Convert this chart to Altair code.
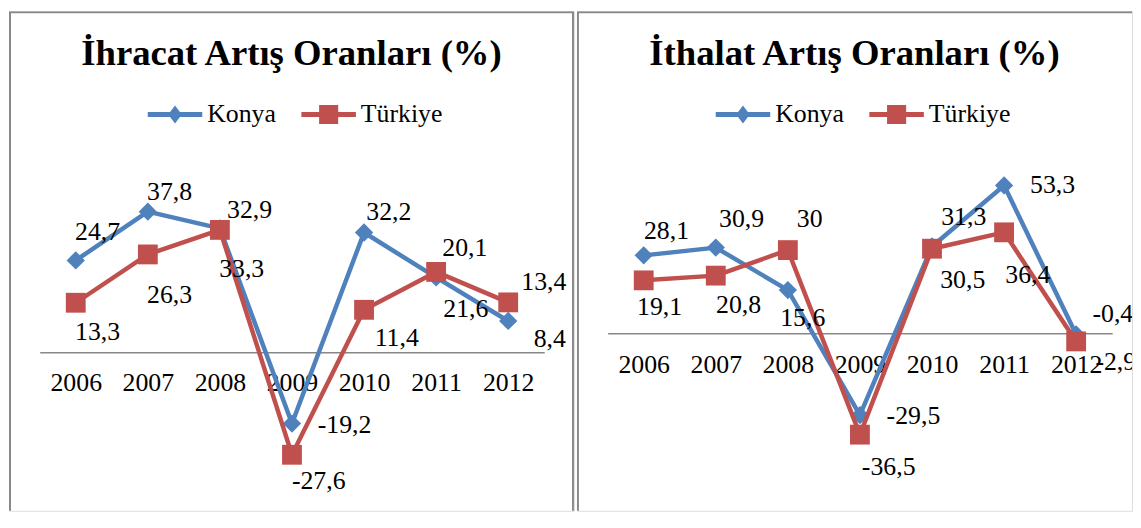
import altair as alt
import pandas as pd

# ---------------- data ----------------
YEARS = [2006, 2007, 2008, 2009, 2010, 2011, 2012]
SERIES = ["Konya", "Türkiye"]
EXPORT_KONYA = [24.7, 37.8, 33.3, -19.2, 32.2, 20.1, 8.4]
EXPORT_TURKIYE = [13.3, 26.3, 32.9, -27.6, 11.4, 21.6, 13.4]
IMPORT_KONYA = [28.1, 30.9, 15.6, -29.5, 31.3, 53.3, -0.4]
IMPORT_TURKIYE = [19.1, 20.8, 30.0, -36.5, 30.5, 36.4, -2.9]
TITLES = ["İhracat Artış Oranları (%)", "İthalat Artış Oranları (%)"]

# ---------------- style ----------------
FONT = "Liberation Serif"
COLORS = {"Konya": "#4F81BD", "Türkiye": "#C0504D"}
MARKERS = {"Konya": ("diamond", 340), "Türkiye": ("square", 400)}
LEGEND_PATHS = {
    "Konya": "M-1,-0.09H1V0.09H-1Z M0,-0.33L0.25,0L0,0.33L-0.25,0Z",
    "Türkiye": "M-1,-0.09H1V0.09H-1Z M-0.35,-0.35H0.35V0.35H-0.35Z",
}
BORDER = "#898989"
H = 504
X_RANGE = [31, 540]
PX_PER_YEAR = (X_RANGE[1] - X_RANGE[0]) / 7.0

# data-label nudges in pixels (dx, dy) per point, as placed in the original
EXPORT_NUDGE = {
    "Konya": [(22, -29), (22, -20), (22, 41), (53, 2), (25, -21), (29, -30), (42, 18)],
    "Türkiye": [(22, 30), (22, 41), (30, -20), (27, 27), (33, 29), (30, 38), (36, -20)],
}
IMPORT_NUDGE = {
    "Konya": [(23, -25), (26, -29), (15, 28), (54, 1), (32, -30), (49, 0), (37, -21)],
    "Türkiye": [(16, 27), (23, 30), (22, -31), (29, 33), (31, 32), (24, 43), (40, 21)],
}


def panel(title, konya, turkiye, nudges, width, y_zero, k, y_domain, open_right):
    rows = []
    for s, vals in zip(SERIES, [konya, turkiye]):
        for i, (yr, v) in enumerate(zip(YEARS, vals)):
            dx, dy = nudges[s][i]
            rows.append(dict(series=s, year=yr, value=v,
                             label=f"{v:g}".replace(".", ","),
                             lx=yr + dx / PX_PER_YEAR, ly=v - dy / k))
    df = pd.DataFrame(rows)

    xscale = alt.Scale(domain=[2005.5, 2012.5], range=X_RANGE, nice=False, zero=False)
    yscale = alt.Scale(domain=y_domain,
                       range=[y_zero - y_domain[0] * k, y_zero - y_domain[1] * k],
                       nice=False, zero=False)
    xaxis = alt.Axis(values=YEARS, format="d", title=None, grid=False, ticks=False,
                     tickSize=0, offset=-(H - y_zero), domainColor="#878787",
                     domainWidth=1.5, labelPadding=31, labelBaseline="middle",
                     labelFont=FONT, labelFontSize=26, labelColor="black",
                     labelFlush=False, labelOverlap=False)

    def X(f):
        return alt.X(f"{f}:Q", scale=xscale, axis=xaxis)

    def Y(f):
        return alt.Y(f"{f}:Q", scale=yscale, axis=None)

    base = alt.Chart(df)
    one = alt.Chart(pd.DataFrame({"t": [title]}))
    frame = one.mark_rect(
        fill="transparent", stroke=BORDER, strokeWidth=2, clip=True
    ).encode(x=alt.value(1), x2=alt.value(width + 20 if open_right else width - 1),
             y=alt.value(1), y2=alt.value(H + 20))

    title_mark = one.mark_text(font=FONT, fontSize=37, fontWeight="bold", color="black",
                               align="center", baseline="alphabetic").encode(
        x=alt.value(width / 2), y=alt.value(54), text="t:N")

    layers = [frame, title_mark]
    for s in SERIES:
        sub = base.transform_filter(alt.datum.series == s)
        layers.append(sub.mark_line(color=COLORS[s], strokeWidth=4.5, strokeJoin="round",
                                    strokeCap="round").encode(x=X("year"), y=Y("value")))
        shp, size = MARKERS[s]
        layers.append(sub.mark_point(shape=shp, size=size, filled=True, opacity=1,
                                     color=COLORS[s]).encode(x=X("year"), y=Y("value")))

    leg = dict(orient="none", legendX=140, legendY=76.5, direction="horizontal",
               title=None, labelFont=FONT, labelFontSize=26, labelColor="black",
               labelOffset=5, columnPadding=25, symbolSize=3025, symbolStrokeWidth=0,
               symbolOpacity=1, padding=0)
    # legend-only layer: its own marks sit outside the clipped view
    legend_layer = base.mark_point(filled=True, opacity=1, size=3025, clip=True).encode(
        x=alt.value(-300), y=alt.value(-300),
        color=alt.Color("series:N", scale=alt.Scale(domain=SERIES,
                        range=[COLORS[s] for s in SERIES]), legend=alt.Legend(**leg)),
        shape=alt.Shape("series:N", scale=alt.Scale(domain=SERIES,
                        range=[LEGEND_PATHS[s] for s in SERIES]), legend=alt.Legend(**leg)),
    )
    layers.append(legend_layer)

    labels = base.mark_text(font=FONT, fontSize=26, color="black", baseline="middle",
                            align="center", clip=True).encode(
        x=X("lx"), y=Y("ly"), text="label:N")
    layers.append(labels)

    return alt.layer(*layers).properties(width=width, height=H)


left = panel(TITLES[0], EXPORT_KONYA, EXPORT_TURKIYE, EXPORT_NUDGE, 570, 344, 3.75,
             [-40, 80], False)
right = panel(TITLES[1], IMPORT_KONYA, IMPORT_TURKIYE, IMPORT_NUDGE, 560, 325, 2.8,
              [-40, 60], True)

chart = alt.hconcat(left, right, spacing=3, bounds="flush").resolve_scale(
    color="independent", shape="independent", x="independent", y="independent"
).resolve_legend(color="independent", shape="independent").configure_view(
    stroke=None).configure(font=FONT).properties(padding=0)

chart.save("out.html", embed_options={"renderer": "svg", "actions": False})
